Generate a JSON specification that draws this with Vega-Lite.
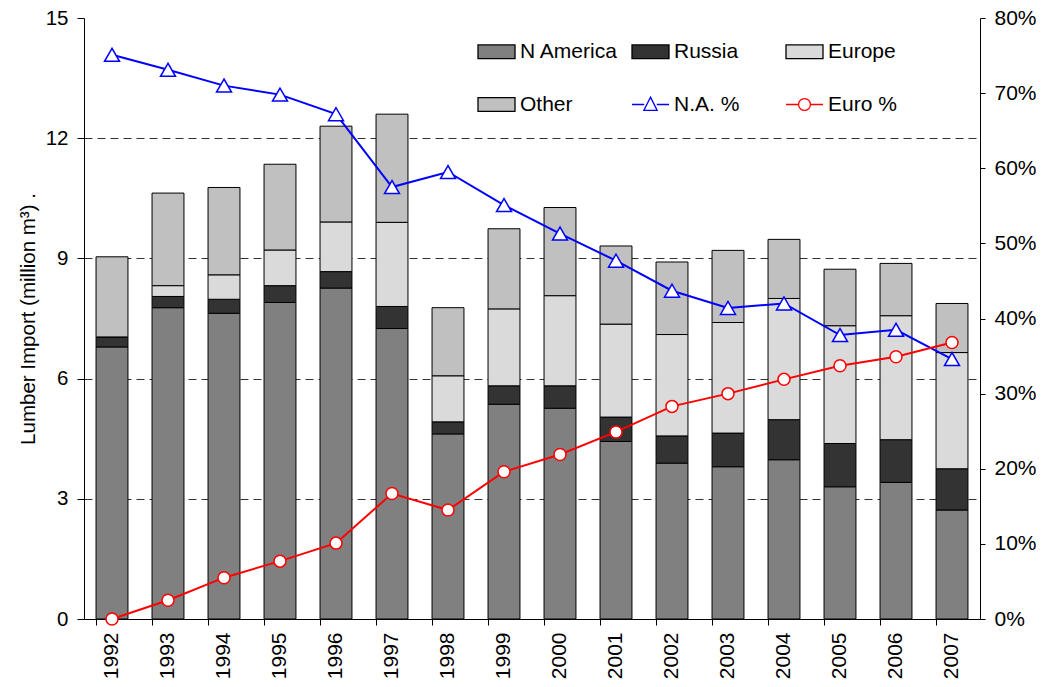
{
  "$schema": "https://vega.github.io/schema/vega-lite/v6.json",
  "width": 896,
  "height": 601,
  "autosize": {"type": "none"},
  "padding": {"left": 84, "top": 18, "right": 63, "bottom": 68},
  "background": "white",
  "config": {
    "font": "Liberation Sans",
    "view": {"stroke": null},
    "axis": {"labelFont": "Liberation Sans", "titleFont": "Liberation Sans", "labelColor": "black", "titleColor": "black", "domainColor": "black", "tickColor": "black", "domainWidth": 1, "tickWidth": 1}
  },
  "datasets": {
    "bars": [
      {"year": "1992", "region": "N America", "value": 6.79}, {"year": "1992", "region": "Russia", "value": 0.25}, {"year": "1992", "region": "Europe", "value": 0.0}, {"year": "1992", "region": "Other", "value": 2.0},
      {"year": "1993", "region": "N America", "value": 7.77}, {"year": "1993", "region": "Russia", "value": 0.28}, {"year": "1993", "region": "Europe", "value": 0.27}, {"year": "1993", "region": "Other", "value": 2.31},
      {"year": "1994", "region": "N America", "value": 7.63}, {"year": "1994", "region": "Russia", "value": 0.35}, {"year": "1994", "region": "Europe", "value": 0.61}, {"year": "1994", "region": "Other", "value": 2.18},
      {"year": "1995", "region": "N America", "value": 7.90}, {"year": "1995", "region": "Russia", "value": 0.42}, {"year": "1995", "region": "Europe", "value": 0.89}, {"year": "1995", "region": "Other", "value": 2.14},
      {"year": "1996", "region": "N America", "value": 8.26}, {"year": "1996", "region": "Russia", "value": 0.41}, {"year": "1996", "region": "Europe", "value": 1.24}, {"year": "1996", "region": "Other", "value": 2.39},
      {"year": "1997", "region": "N America", "value": 7.25}, {"year": "1997", "region": "Russia", "value": 0.55}, {"year": "1997", "region": "Europe", "value": 2.10}, {"year": "1997", "region": "Other", "value": 2.70},
      {"year": "1998", "region": "N America", "value": 4.62}, {"year": "1998", "region": "Russia", "value": 0.30}, {"year": "1998", "region": "Europe", "value": 1.15}, {"year": "1998", "region": "Other", "value": 1.70},
      {"year": "1999", "region": "N America", "value": 5.36}, {"year": "1999", "region": "Russia", "value": 0.46}, {"year": "1999", "region": "Europe", "value": 1.92}, {"year": "1999", "region": "Other", "value": 2.00},
      {"year": "2000", "region": "N America", "value": 5.26}, {"year": "2000", "region": "Russia", "value": 0.56}, {"year": "2000", "region": "Europe", "value": 2.25}, {"year": "2000", "region": "Other", "value": 2.20},
      {"year": "2001", "region": "N America", "value": 4.43}, {"year": "2001", "region": "Russia", "value": 0.61}, {"year": "2001", "region": "Europe", "value": 2.32}, {"year": "2001", "region": "Other", "value": 1.95},
      {"year": "2002", "region": "N America", "value": 3.89}, {"year": "2002", "region": "Russia", "value": 0.68}, {"year": "2002", "region": "Europe", "value": 2.53}, {"year": "2002", "region": "Other", "value": 1.81},
      {"year": "2003", "region": "N America", "value": 3.80}, {"year": "2003", "region": "Russia", "value": 0.84}, {"year": "2003", "region": "Europe", "value": 2.76}, {"year": "2003", "region": "Other", "value": 1.80},
      {"year": "2004", "region": "N America", "value": 3.975}, {"year": "2004", "region": "Russia", "value": 1.0}, {"year": "2004", "region": "Europe", "value": 3.025}, {"year": "2004", "region": "Other", "value": 1.475},
      {"year": "2005", "region": "N America", "value": 3.30}, {"year": "2005", "region": "Russia", "value": 1.08}, {"year": "2005", "region": "Europe", "value": 2.94}, {"year": "2005", "region": "Other", "value": 1.41},
      {"year": "2006", "region": "N America", "value": 3.41}, {"year": "2006", "region": "Russia", "value": 1.065}, {"year": "2006", "region": "Europe", "value": 3.095}, {"year": "2006", "region": "Other", "value": 1.305},
      {"year": "2007", "region": "N America", "value": 2.72}, {"year": "2007", "region": "Russia", "value": 1.03}, {"year": "2007", "region": "Europe", "value": 2.90}, {"year": "2007", "region": "Other", "value": 1.225}
    ],
    "pct": [
      {"year": "1992", "na": 0.751, "euro": 0.0},
      {"year": "1993", "na": 0.731, "euro": 0.025},
      {"year": "1994", "na": 0.710, "euro": 0.055},
      {"year": "1995", "na": 0.698, "euro": 0.077},
      {"year": "1996", "na": 0.672, "euro": 0.101},
      {"year": "1997", "na": 0.575, "euro": 0.167},
      {"year": "1998", "na": 0.595, "euro": 0.145},
      {"year": "1999", "na": 0.551, "euro": 0.196},
      {"year": "2000", "na": 0.513, "euro": 0.219},
      {"year": "2001", "na": 0.477, "euro": 0.249},
      {"year": "2002", "na": 0.437, "euro": 0.283},
      {"year": "2003", "na": 0.414, "euro": 0.300},
      {"year": "2004", "na": 0.420, "euro": 0.319},
      {"year": "2005", "na": 0.378, "euro": 0.337},
      {"year": "2006", "na": 0.385, "euro": 0.349},
      {"year": "2007", "na": 0.346, "euro": 0.368}
    ]
  },
  "layer": [
    {
      "data": {"name": "bars"},
      "transform": [{"calculate": "indexof(['N America','Russia','Europe','Other'], datum.region)", "as": "k"}],
      "mark": {"type": "bar", "stroke": "black", "strokeWidth": 1},
      "encoding": {
        "x": {
          "field": "year", "type": "ordinal",
          "scale": {"paddingInner": 0.43, "paddingOuter": 0.215},
          "axis": {"title": null, "labelAngle": -90, "labelFontSize": 21, "bandPosition": 0, "tickSize": 6, "labelPadding": 7, "grid": false}
        },
        "y": {
          "field": "value", "type": "quantitative", "stack": "zero",
          "scale": {"domain": [0, 15], "nice": false},
          "axis": {
            "title": "Lumber Import (million m³) .", "titleFontSize": 20.5, "titleFontWeight": "normal", "titlePadding": 7,
            "values": [0, 3, 6, 9, 12, 15], "labelFontSize": 20.5, "tickSize": 7, "labelPadding": 9,
            "grid": true, "gridDash": [8, 5], "gridColor": "#333333", "gridWidth": 1,
            "gridOpacity": {"condition": {"test": "datum.value >= 15 || datum.value <= 0", "value": 0}, "value": 1}
          }
        },
        "fill": {
          "field": "region", "type": "nominal",
          "scale": {"domain": ["N America", "Russia", "Europe", "Other", "N.A. %", "Euro %"], "range": ["#808080", "#333333", "#dadada", "#c0c0c0", "white", "white"]},
          "legend": {
            "orient": "none", "legendX": 393, "legendY": 14, "columns": 3, "direction": "horizontal", "gridAlign": "all",
            "columnPadding": 10, "rowPadding": 23, "title": null, "padding": 0,
            "labelFontSize": 21, "labelFont": "Liberation Sans", "labelColor": "black", "labelOffset": 4,
            "symbolSize": 1369, "symbolOpacity": 1, "symbolStrokeWidth": 1.3,
            "encoding": {
              "symbols": {
                "shape": {"value": {"expr": "datum.value === 'N.A. %' ? 'M-1,0H-0.34M0.34,0H1M0,-0.4L0.36,0.32H-0.36Z' : datum.value === 'Euro %' ? 'M-1,0H-0.32M0.32,0H1M0.32,0A0.32,0.32 0 1 1 -0.32,0A0.32,0.32 0 1 1 0.32,0Z' : 'M-1,-0.37H1V0.37H-1Z'"}},
                "stroke": {"value": {"expr": "datum.value === 'N.A. %' ? 'blue' : datum.value === 'Euro %' ? 'red' : 'black'"}}
              }
            }
          }
        },
        "order": {"field": "k", "type": "quantitative"}
      }
    },
    {
      "data": {"name": "pct"},
      "layer": [
        {
          "mark": {"type": "line", "color": "blue", "strokeWidth": 2,
                   "point": {"shape": "triangle-up", "size": 225, "filled": true, "fill": "white", "stroke": "blue", "strokeWidth": 1.5}},
          "encoding": {
            "x": {"field": "year", "type": "ordinal"},
            "y": {
              "field": "na", "type": "quantitative",
              "scale": {"domain": [0, 0.8], "nice": false},
              "axis": {"orient": "right", "title": null, "format": ".0%", "values": [0, 0.1, 0.2, 0.3, 0.4, 0.5, 0.6, 0.7, 0.8], "labelFontSize": 21, "tickSize": 5, "labelPadding": 9, "grid": false}
            }
          }
        },
        {
          "mark": {"type": "line", "color": "red", "strokeWidth": 2,
                   "point": {"shape": "circle", "size": 144, "filled": true, "fill": "white", "stroke": "red", "strokeWidth": 1.5}},
          "encoding": {
            "x": {"field": "year", "type": "ordinal"},
            "y": {"field": "euro", "type": "quantitative"}
          }
        }
      ]
    }
  ],
  "resolve": {"scale": {"y": "independent"}}
}
